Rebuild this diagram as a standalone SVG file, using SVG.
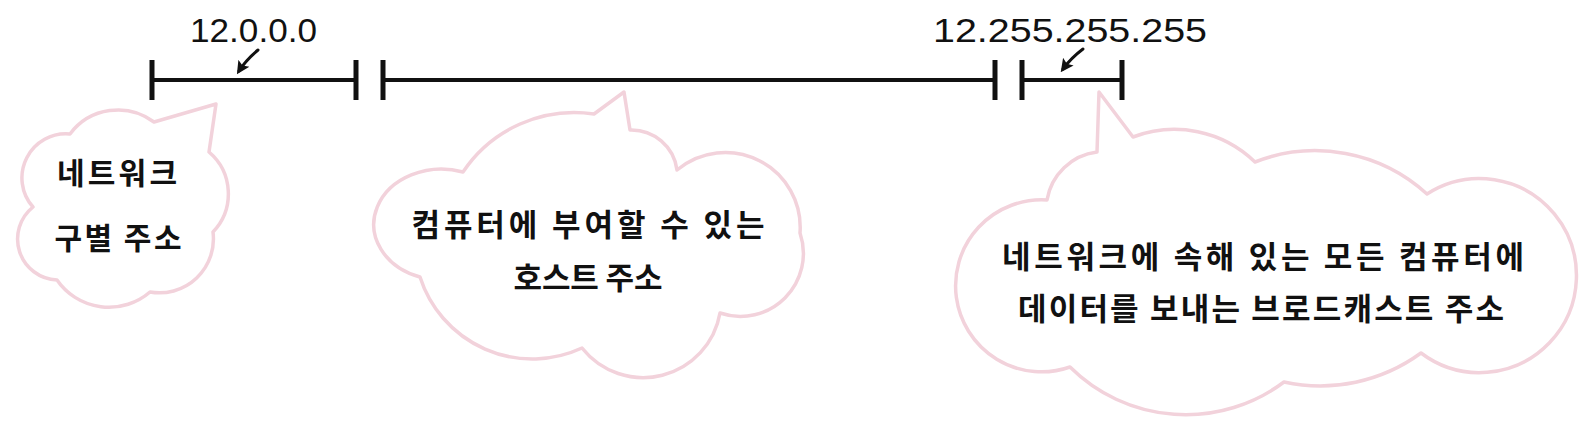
<svg xmlns="http://www.w3.org/2000/svg" width="1584" height="428" viewBox="0 0 1584 428">
<style>
.seg{stroke:#111;stroke-width:4;fill:none;stroke-linecap:butt}
.tick{stroke:#111;stroke-width:5;fill:none}
.cloud{fill:#fff;stroke:#f2d2db;stroke-width:3.5;stroke-linejoin:round}
.ko{font-family:"Noto Sans CJK KR","Noto Sans CJK SC",sans-serif;font-weight:700;fill:#111;text-anchor:middle}
.num{font-family:"Liberation Sans","DejaVu Sans",sans-serif;font-size:34px;fill:#111}
.arr{stroke:#111;stroke-width:3;fill:none;stroke-linecap:round}
</style>
<defs>
<marker id="ah" viewBox="0 0 10 10" refX="7" refY="5" markerWidth="13" markerHeight="14" orient="auto" markerUnits="userSpaceOnUse">
<path d="M0,0 L10,5 L0,10 L2,5 Z" fill="#111"/>
</marker>
</defs>
<rect width="1584" height="428" fill="#fff"/>

<g id="segment-network">
<line class="seg" x1="152" y1="80" x2="356" y2="80"/>
<line class="tick" x1="152" y1="60" x2="152" y2="100"/>
<line class="tick" x1="356" y1="60" x2="356" y2="100"/>
<text class="num" x="190" y="42" textLength="127" lengthAdjust="spacingAndGlyphs">12.0.0.0</text>
</g>
<g id="segment-host">
<line class="seg" x1="383" y1="80" x2="995" y2="80"/>
<line class="tick" x1="383" y1="60" x2="383" y2="100"/>
<line class="tick" x1="995" y1="60" x2="995" y2="100"/>
</g>
<g id="segment-broadcast">
<line class="seg" x1="1022" y1="80" x2="1122" y2="80"/>
<line class="tick" x1="1022" y1="60" x2="1022" y2="100"/>
<line class="tick" x1="1122" y1="60" x2="1122" y2="100"/>
<text class="num" x="933" y="42" textLength="274" lengthAdjust="spacingAndGlyphs">12.255.255.255</text>
</g>

<g id="connectors">
<path class="arr" d="M258,50 Q246,60 239,71" marker-end="url(#ah)"/>
<path class="arr" d="M1083,49 Q1071,58 1063,69" marker-end="url(#ah)"/>
</g>

<g id="cloud-network">
<path class="cloud" d="M216,104 L209,152 A55,55 0 0 1 213,232 A54,54 0 0 1 150,292 A63,63 0 0 1 57,280 A41,41 0 0 1 33,207 A44,44 0 0 1 70,134 A60,60 0 0 1 154,122 Z"/>
<text class="ko" font-size="30" x="117" y="184" textLength="120" lengthAdjust="spacing">네트워크</text>
<text class="ko" font-size="30" x="118" y="249" textLength="127" lengthAdjust="spacing">구별 주소</text>
</g>

<g id="cloud-host">
<path class="cloud" d="M624,92 L630,130 A46,46 0 0 1 677,170 A75,75 0 0 1 800,233 A63,63 0 0 1 720,313 A78,78 0 0 1 582,348 A118,118 0 0 1 420,277 A66,54 0 1 1 463,172 A134,134 0 0 1 594,114 Z"/>
<text class="ko" font-size="31" x="588" y="236" textLength="353" lengthAdjust="spacing">컴퓨터에 부여할 수 있는</text>
<text class="ko" font-size="31" x="588" y="289" textLength="149" lengthAdjust="spacing">호스트 주소</text>
</g>

<g id="cloud-broadcast">
<path class="cloud" d="M1099,92 L1133,137 A116,116 0 0 1 1255,162 A166,166 0 0 1 1427,194 A97,97 0 1 1 1421,353 A171,171 0 0 1 1284,382 A164,164 0 0 1 1070,367 A86,86 0 1 1 1047,200 A58,58 0 0 1 1097,152 Z"/>
<text class="ko" font-size="31" x="1263" y="268" textLength="522" lengthAdjust="spacing">네트워크에 속해 있는 모든 컴퓨터에</text>
<text class="ko" font-size="31" x="1261" y="320" textLength="486" lengthAdjust="spacing">데이터를 보내는 브로드캐스트 주소</text>
</g>
</svg>
